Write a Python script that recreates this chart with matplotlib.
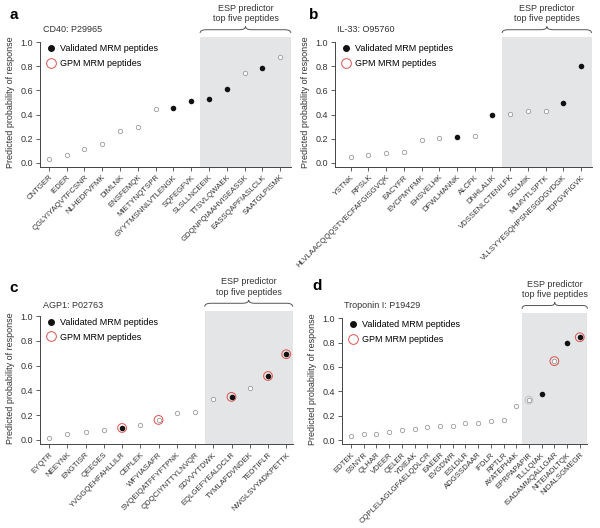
import numpy as np
import matplotlib
matplotlib.use("Agg")
import matplotlib.pyplot as plt
from matplotlib.path import Path
from matplotlib.patches import PathPatch
from matplotlib.lines import Line2D
import matplotlib.transforms as mtransforms

plt.rcParams['font.family'] = ['Liberation Sans', 'DejaVu Sans']

# --- Daten ---
# Art: o = nur vorhergesagt, v = validiert (MRM), g = GPM, vg = beides, r = grauer Ring
peptides_a = ["CNTGER", "IEDER", "QGLYIYAQVTFCSNR", "NLHEDFVFMK", "DIMLNK", "ENSFEMQK",
              "MIETYNQTSPR", "GYYTMSNNLVTLENGK", "SQFEGFVK", "SLSLLNCEEIK", "TTSVLQWAEK",
              "GDQNPQIAAHVISEASSK", "EASSQAPFIASLCLK", "SAATGLPISMK"]
prob_a = [0.033, 0.066, 0.116, 0.154, 0.267, 0.292, 0.449, 0.457, 0.515, 0.529, 0.614,
          0.744, 0.788, 0.876]
kind_a = ["o", "o", "o", "o", "o", "o", "o", "v", "v", "v", "v", "o", "v", "o"]

peptides_b = ["YSTNK", "RPSLK", "HLVLAACQQQSTVECFAFGISGVQK", "EACYFR", "EVCPMYFMK", "EHSVELHK",
              "DFWLHANNK", "ALCFK", "DNHLALIK", "VDSSENLCTENILFK", "SGLMIK", "MLMVTLSPTK",
              "VLLSYYESQHPSNESGDGVDGK", "TDPGVFIGVK"]
prob_b = [0.050, 0.064, 0.078, 0.089, 0.189, 0.203, 0.217, 0.219, 0.397, 0.406, 0.430,
          0.430, 0.497, 0.800]
kind_b = ["o", "o", "o", "o", "o", "o", "v", "o", "v", "o", "o", "o", "v", "v"]

peptides_c = ["EYQTR", "NEEYNK", "ENGTISR", "QEEGES", "YVGGQEHFAHLLILR", "CEPLEK", "WFYIASAFR",
              "SVQEIQATFFYFTPNK", "QDQCIYNTTYLNVQR", "SDVVYTDWK", "EQLGEFYEALDCLR",
              "TYMLAFDVNDEK", "TEDTIFLR", "NWGLSVYADKPETTK"]
prob_c = [0.019, 0.046, 0.062, 0.081, 0.097, 0.119, 0.162, 0.218, 0.229, 0.334, 0.348,
          0.418, 0.517, 0.693]
kind_c = ["o", "o", "o", "o", "vg", "o", "g", "o", "o", "o", "vg", "o", "vg", "vg"]

peptides_d = ["EDTEK", "SSNYR", "QLHAR", "VDEER", "QELER", "YDIEAK", "CQPLELAGLGFAELQDLCR",
              "EAEER", "EVGDWR", "ESLDLR", "ADGSSDAAR", "IFDLR", "RPTLR", "AYATEPHAK",
              "EPRPAPAPIR", "TLLLQIAK", "ISADAMMQALLGAR", "NITEIADLTQK", "NIDALSGMEGR"]
prob_d = [0.030, 0.046, 0.049, 0.066, 0.085, 0.093, 0.109, 0.115, 0.117, 0.137, 0.142,
          0.158, 0.161, 0.276, 0.328, 0.380, 0.648, 0.800, 0.844]
kind_d = ["o", "o", "o", "o", "o", "o", "o", "o", "o", "o", "o", "o", "o", "o", "r",
          "v", "g", "v", "vg"]

titles = ["CD40: P29965", "IL-33: O95760", "AGP1: P02763", "Troponin I: P19429"]
letters = ["a", "b", "c", "d"]

GRAY_BG = "#e4e5e7"
OPEN_EDGE = "#9a9a9a"
RED = "#d9534f"
TXT = "#333333"


def draw_brace(ax, x0, x1, yb=1.035, ym=1.06, yt=1.085):
    trans = mtransforms.blended_transform_factory(ax.transData, ax.transAxes)
    xc = (x0 + x1) / 2
    d = 0.07 * (x1 - x0)
    verts = [(x0, yb), (x0, ym), (x0 + d, ym), (xc - d, ym), (xc, ym), (xc, yt),
             (xc, ym), (xc + d, ym), (x1 - d, ym), (x1, ym), (x1, yb)]
    codes = [Path.MOVETO, Path.CURVE3, Path.CURVE3, Path.LINETO, Path.CURVE3, Path.CURVE3,
             Path.CURVE3, Path.CURVE3, Path.LINETO, Path.CURVE3, Path.CURVE3]
    patch = PathPatch(Path(verts, codes), transform=trans, fill=False, lw=0.7,
                      edgecolor="#555555", clip_on=False)
    ax.add_patch(patch)
    ax.text(xc, yt + 0.025, "ESP predictor\ntop five peptides", transform=trans,
            ha="center", va="bottom", fontsize=6.5, color=TXT, linespacing=1.2)


def plot_panel(ax, peptides, probs, kinds, title, letter, xlim, gray_start, title_y):
    x = np.arange(len(peptides))
    probs = np.array(probs)
    kinds = np.array(kinds)
    ax.axvspan(gray_start, xlim[1], color=GRAY_BG, lw=0, zorder=0)

    m = np.isin(kinds, ["o", "g", "r"])
    ax.scatter(x[m], probs[m], s=10, facecolor="white", edgecolor=OPEN_EDGE, lw=0.6, zorder=3)
    m = np.isin(kinds, ["v", "vg"])
    ax.scatter(x[m], probs[m], s=16, color="#111111", lw=0, zorder=4)
    m = np.isin(kinds, ["g", "vg"])
    ax.scatter(x[m], probs[m], s=40, facecolor="none", edgecolor=RED, lw=0.7, zorder=2)
    m = kinds == "r"
    ax.scatter(x[m], probs[m], s=30, facecolor="none", edgecolor="#c8c8c8", lw=0.8, zorder=2)

    ax.set_xlim(*xlim)
    ax.set_ylim(-0.035, 1.04)
    ax.set_xticks(x)
    ax.set_xticklabels(peptides, rotation=45, ha="right", rotation_mode="anchor",
                       fontsize=5.6, color=TXT)
    ax.set_yticks(np.arange(0, 1.01, 0.2))
    ax.set_yticklabels([f"{v:.1f}" for v in np.arange(0, 1.01, 0.2)], fontsize=6.5, color=TXT)
    ax.tick_params(length=3, width=0.6, color="#444444", pad=2)
    for s in ["top", "right"]:
        ax.spines[s].set_visible(False)
    for s in ["left", "bottom"]:
        ax.spines[s].set_linewidth(0.7)
        ax.spines[s].set_color("#444444")
    ax.spines["left"].set_bounds(-0.035, 1.0)
    ax.set_ylabel("Predicted probability of response", fontsize=6.5, color=TXT, labelpad=4)

    ax.text(0.01, title_y, title, transform=ax.transAxes, fontsize=6.5, color=TXT, va="center")
    draw_brace(ax, gray_start, xlim[1])

    handles = [Line2D([], [], ls="", marker="o", ms=4, color="#111111"),
               Line2D([], [], ls="", marker="o", ms=7, mfc="none", mec=RED, mew=0.7)]
    ax.legend(handles, ["Validated MRM peptides", "GPM MRM peptides"], loc="upper left",
              bbox_to_anchor=(0.0, 0.995), frameon=False, fontsize=6.5, handlelength=1.0,
              handletextpad=0.5, labelspacing=0.6, borderaxespad=0.3)


fig = plt.figure(figsize=(6.0, 5.28), dpi=100)
ax_a = fig.add_axes([0.0667, 0.684, 0.418, 0.245])
ax_b = fig.add_axes([0.558, 0.684, 0.428, 0.245])
ax_c = fig.add_axes([0.0667, 0.1585, 0.421, 0.252])
ax_d = fig.add_axes([0.5695, 0.1585, 0.4095, 0.248])

plot_panel(ax_a, peptides_a, prob_a, kind_a, titles[0], letters[0], (-0.5, 13.6), 8.5, 1.06)
plot_panel(ax_b, peptides_b, prob_b, kind_b, titles[1], letters[1], (-0.9, 13.6), 8.55, 1.06)
plot_panel(ax_c, peptides_c, prob_c, kind_c, titles[2], letters[2], (-0.5, 13.35), 8.53, 1.045)
plot_panel(ax_d, peptides_d, prob_d, kind_d, titles[3], letters[3], (-0.73, 18.6), 13.46, 1.06)

fig.text(0.015, 0.972, "a", fontsize=11, fontweight="bold", va="center")
fig.text(0.515, 0.972, "b", fontsize=11, fontweight="bold", va="center")
fig.text(0.015, 0.455, "c", fontsize=11, fontweight="bold", va="center")
fig.text(0.52, 0.458, "d", fontsize=11, fontweight="bold", va="center")

fig.savefig("out.png", dpi=100)
